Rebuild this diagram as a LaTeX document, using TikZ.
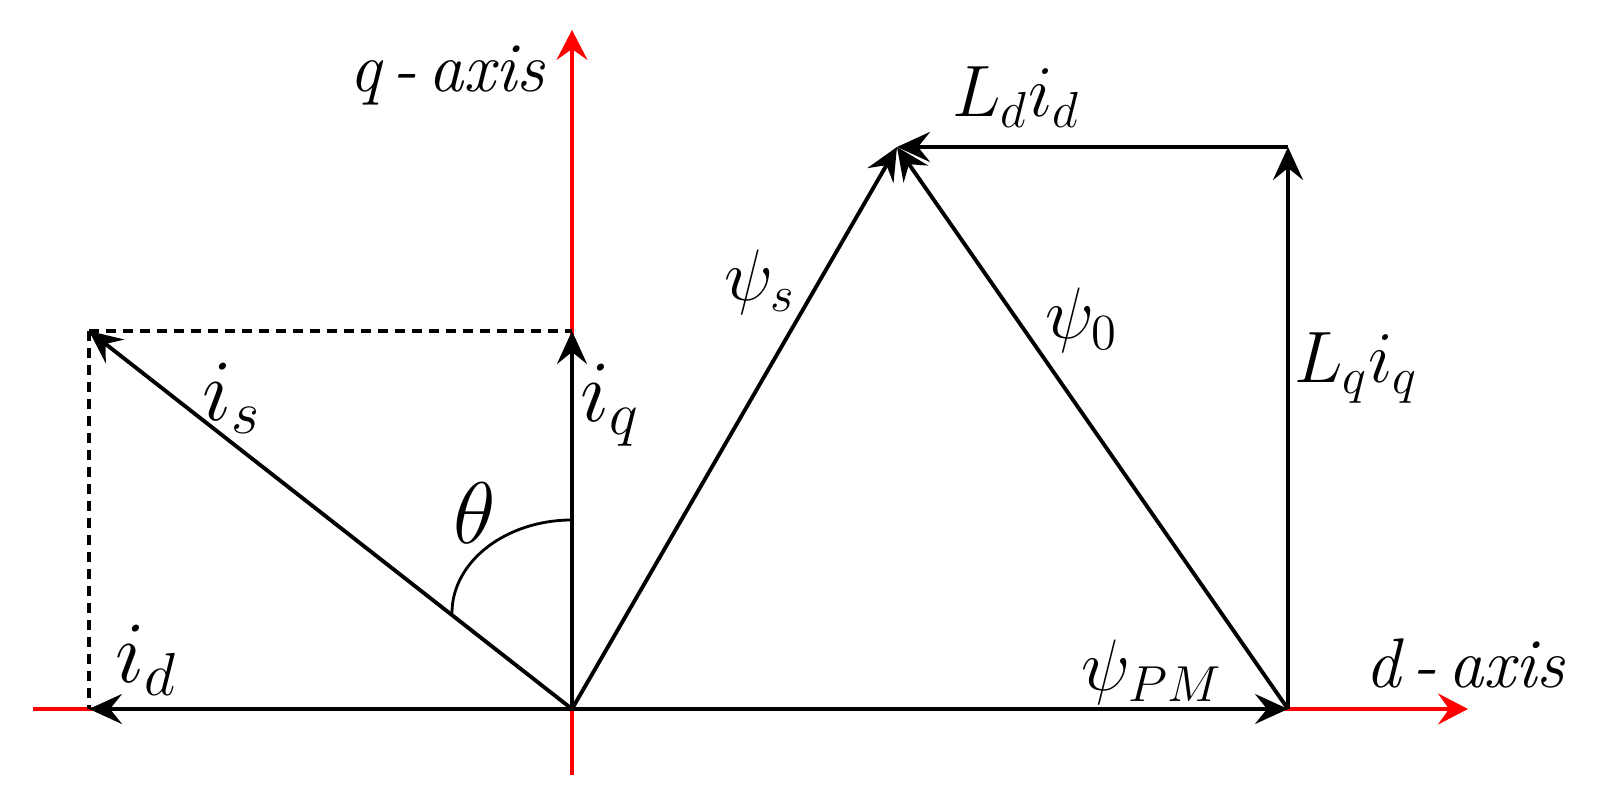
\documentclass[tikz,border=0pt]{standalone}
\usetikzlibrary{arrows.meta}
\tikzset{
  vec/.style={line width=1.1pt, -{Stealth[length=3.3mm,width=3mm,inset=1.2mm]}},
  axisline/.style={red, line width=0.9pt},
  guide/.style={line width=1pt, dash pattern=on 1mm off 0.7mm},
  lbl/.style={font=\fontsize{20}{24}\selectfont},
  curlbl/.style={font=\fontsize{26}{30}\selectfont},
}
\begin{document}
\begin{tikzpicture}
    \useasboundingbox (-5.72,-0.80) rectangle (10.28,7.09);
    \coordinate (O) at (0,0);
    \coordinate (A) at (-4.83,0);
    \coordinate (S) at (-4.83,3.78);
    \coordinate (Q) at (0,3.78);
    \coordinate (P) at (3.25,5.62);
    \coordinate (M) at (7.16,0);
    \coordinate (T) at (7.16,5.62);
    \coordinate (dL) at (-5.39,0);
    \coordinate (dR) at (8.96,0);
    \coordinate (qB) at (0,-0.66);
    \coordinate (qT) at (0,6.79);
    % axes
    \draw [axisline, -{Stealth[length=3mm,width=3.1mm,inset=1.1mm]}] (dL) -- (dR);
    \draw [axisline, -{Stealth[length=3mm,width=3.1mm,inset=1.1mm]}] (qB) -- (qT);
    % projections of i_s
    \draw [guide] (S) -- (Q);
    \draw [guide] (S) -- (A);
    % current vectors
    \draw [vec] (O) -- (A);
    \draw [vec] (O) -- (Q);
    \draw [vec] (O) -- (S);
    \draw [line width=0.8pt] (0,1.89) arc [start angle=90, end angle=180, x radius=1.20, y radius=0.93];
    % flux vectors
    \draw [vec] (O) -- (P);
    \draw [vec] (O) -- (M);
    \draw [vec] (M) -- (P);
    \draw [vec] (M) -- (T);
    \draw [vec] (T) -- (P);
    % labels
    \node [lbl, anchor=base east] (qlab) at (-0.14,6.17) {\textit{q\,-\,axis}};
    \node [lbl, anchor=base east] (dlab) at (10.06,0.21) {\textit{d\,-\,axis}};
    \node [curlbl] (islab) at (-3.40,3.11) {$i_s$};
    \node [curlbl] (idlab) at (-4.26,0.49) {$i_d$};
    \node [curlbl] (iqlab) at (0.38,3.04) {$i_q$};
    \node [font=\fontsize{24}{28}\selectfont] (thlab) at (-0.97,1.96) {$\theta$};
    \node [lbl] (pslab) at (1.88,4.27) {$\psi_s$};
    \node [lbl] (p0lab) at (5.10,3.89) {$\psi_0$};
    \node [lbl] (pmlab) at (5.80,0.37) {$\psi_{PM}$};
    \node [lbl] (lqlab) at (7.84,3.41) {$L_q i_q$};
    \node [lbl] (ldlab) at (4.44,6.12) {$L_d i_d$};
\end{tikzpicture}
\end{document}
